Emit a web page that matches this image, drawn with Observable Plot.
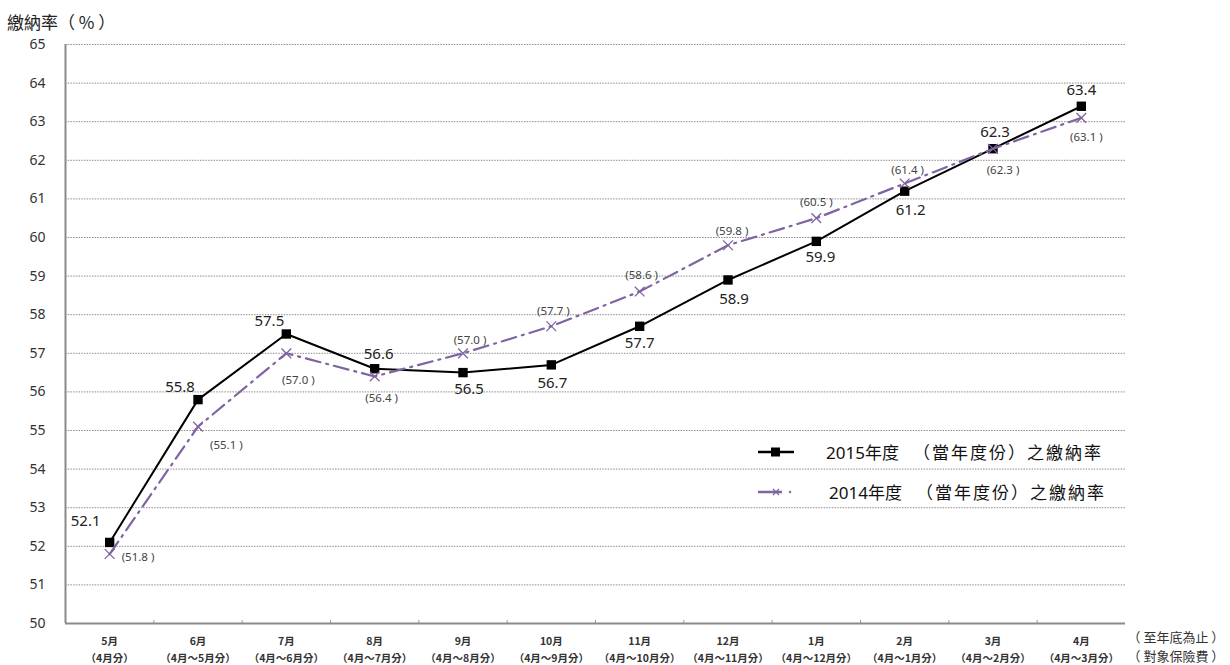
<!DOCTYPE html>
<html>
<head>
<meta charset="utf-8">
<script src="https://cdn.jsdelivr.net/npm/d3@7"></script>
<script src="https://cdn.jsdelivr.net/npm/@observablehq/plot@0.6"></script>
<style>
  body { margin: 0; background: #fff; }
  #wrap { position: relative; width: 1230px; height: 665px; overflow: hidden; font-family: "Noto Sans CJK TC", "Noto Sans", sans-serif; }
  #title { height: 16px; padding: 14px 0 0 7px; font-size: 17px; line-height: 16px; color: #222; }
  #chart { height: 635px; }
  .legend { position: absolute; left: 756px; display: flex; align-items: center; color: #111; font-size: 17px; }
  .legend svg { margin-right: 30px; }
  .legend .yr { font-family: "Noto Sans", "Noto Sans CJK TC", sans-serif; }
  .legend .rest { margin-left: 14px; letter-spacing: 2px; }
</style>
</head>
<body>
<div id="wrap">
  <div id="title">繳納率（ % ）</div>
  <div id="chart"></div>
  <div class="legend" style="top:439px">
    <svg width="40" height="14"><line x1="2" y1="7" x2="38" y2="7" stroke="#000" stroke-width="2.5"/><rect x="15" y="2.5" width="9" height="9" fill="#000"/></svg>
    <span class="yr">2015年度</span><span class="rest">（當年度份）之繳納率</span>
  </div>
  <div class="legend" style="top:479px">
    <svg width="40" height="14"><line x1="2" y1="7" x2="26" y2="7" stroke="#8064A2" stroke-width="2.5"/><circle cx="34" cy="7" r="1.2" fill="#8064A2"/><path d="M17,4 L23,10 M23,4 L17,10" stroke="#8064A2" stroke-width="1.3"/></svg>
    <span class="yr" style="margin-left:3px">2014年度</span><span class="rest">（當年度份）之繳納率</span>
  </div>
</div>
<script>
// Months of the fiscal year (April start) and the coverage period each figure accumulates
const months = ["5月", "6月", "7月", "8月", "9月", "10月", "11月", "12月", "1月", "2月", "3月", "4月"];
const periods = ["（4月分）", "（4月〜5月分）", "（4月〜6月分）", "（4月〜7月分）", "（4月〜8月分）", "（4月〜9月分）",
  "（4月〜10月分）", "（4月〜11月分）", "（4月〜12月分）", "（4月〜1月分）", "（4月〜2月分）", "（4月〜3月分）"];

// Cumulative payment rate (%)
const rate2015 = [52.1, 55.8, 57.5, 56.6, 56.5, 56.7, 57.7, 58.9, 59.9, 61.2, 62.3, 63.4];
const rate2014 = [51.8, 55.1, 57.0, 56.4, 57.0, 57.7, 58.6, 59.8, 60.5, 61.4, 62.3, 63.1];

const yTicks = [50, 51, 52, 53, 54, 55, 56, 57, 58, 59, 60, 61, 62, 63, 64, 65];

// Label offsets (px) around each point
const place2015 = [[-24, -21], [-18, -12], [-17, -13], [4, -15], [6, 17], [1, 18], [0, 17], [6, 19], [4, 16], [6, 19], [2, -17], [0, -16]];
const place2014 = [[12, 3, "start"], [12, 19, "start"], [12, 27], [7, 22], [7, -13], [2, -15], [2, -16], [4, -14], [0, -16], [3, -13], [10, 22], [5, 19]];

const idx = months.map((_, i) => i);
const s2015 = idx.map(i => ({i, v: rate2015[i]}));
const s2014 = idx.map(i => ({i, v: rate2014[i]}));
const bounds = idx.slice(1).map(i => i - 0.5);

const numFont = "'Noto Sans', sans-serif";

const labelMarks = [
  ...s2015.map((d, k) => Plot.text([d], {
    x: "i", y: "v", text: e => e.v.toFixed(1),
    dx: place2015[k][0], dy: place2015[k][1],
    fontSize: 15, fill: "#222", fontFamily: numFont
  })),
  ...s2014.map((d, k) => Plot.text([d], {
    x: "i", y: "v", text: e => `(${e.v.toFixed(1)} )`,
    dx: place2014[k][0], dy: place2014[k][1], textAnchor: place2014[k][2] || "middle",
    fontSize: 11.5, fill: "#444", fontFamily: numFont
  }))
];

const chart = Plot.plot({
  width: 1230,
  height: 635,
  marginTop: 14,
  marginBottom: 42,
  marginLeft: 65,
  marginRight: 105,
  x: {type: "linear", domain: [-0.5, 11.5]},
  y: {domain: [50, 65]},
  style: {background: "transparent", overflow: "visible", display: "block"},
  marks: [
    Plot.gridY(yTicks, {stroke: "#8c8c8c", strokeOpacity: 1, strokeWidth: 1, strokeDasharray: "1.5,1.2"}),
    Plot.axisY(yTicks, {tickSize: 0, tickPadding: 20, fontSize: 14, fill: "#333", fontFamily: numFont, label: null}),
    Plot.axisX(idx, {
      tickSize: 0, tickPadding: 10, label: null,
      tickFormat: i => months[i] + "\n" + periods[i],
      fontSize: 10.5, fontWeight: "bold", lineHeight: 1.6, fill: "#333",
      fontFamily: "'Noto Sans CJK TC', sans-serif"
    }),
    Plot.axisX(bounds, {tickSize: -3, tickFormat: () => "", label: null, stroke: "#999"}),
    Plot.ruleX([-0.5], {stroke: "#8a8a8a", strokeWidth: 2}),
    Plot.ruleY([50], {stroke: "#8a8a8a", strokeWidth: 2}),
    Plot.line(s2015, {x: "i", y: "v", stroke: "#000", strokeWidth: 2}),
    Plot.dot(s2015, {x: "i", y: "v", symbol: "square", r: 5.3, fill: "#000"}),
    Plot.line(s2014, {x: "i", y: "v", stroke: "#8064A2", strokeWidth: 2.2, strokeDasharray: "15,6,2,6"}),
    Plot.dot(s2014, {x: "i", y: "v", symbol: "times", r: 4.5, stroke: "#8064A2", strokeWidth: 1.3}),
    ...labelMarks,
    Plot.text(["（ 至年底為止 ）\n（ 對象保險費 ）"], {
      frameAnchor: "bottom-right", textAnchor: "start", lineAnchor: "middle", dx: 2, dy: 22,
      lineHeight: 1.45, fontSize: 13, fill: "#333", fontFamily: "'Noto Sans CJK TC', sans-serif"
    })
  ]
});
document.getElementById("chart").appendChild(chart);
</script>
</body>
</html>
